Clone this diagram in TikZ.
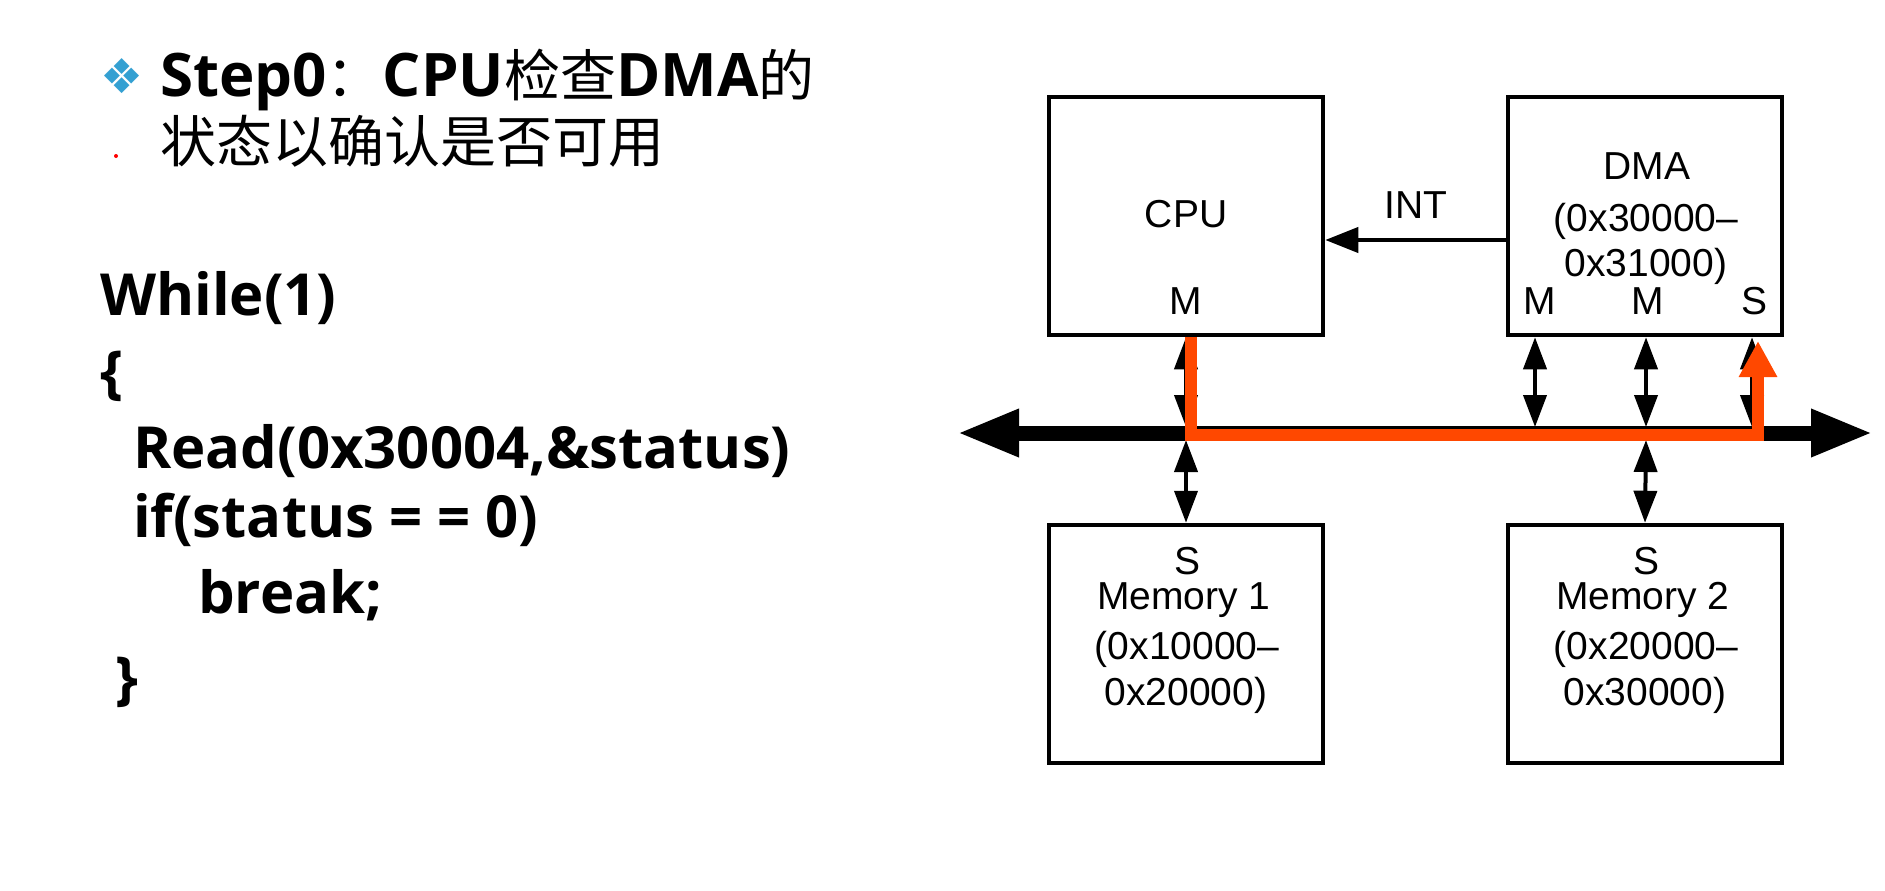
\documentclass[tikz,border=0pt]{standalone}
\usepackage{fontspec}
\setmainfont{Liberation Sans}
\newfontfamily\codefont{Open Sans}
\newfontfamily\cjk{Noto Sans CJK SC}
\newfontfamily\symfont{DejaVu Sans}
\usetikzlibrary{arrows.meta}
\definecolor{hlorange}{RGB}{255,72,0}
\definecolor{bulletblue}{RGB}{52,160,210}
\newcommand\tlat[1]{{\codefont\bfseries\fontsize{60}{66}\selectfont #1}}
\newcommand\tcjk[1]{{\cjk\fontsize{56}{62}\selectfont #1}}
\tikzset{
  box/.style={draw, line width=4.5pt, minimum width=274pt, minimum height=238pt, inner sep=0pt},
  lbl/.style={font=\fontsize{39}{46}\selectfont, inner sep=0pt, anchor=base},
  link/.style={line width=4pt, arrows={Triangle[length=32pt,width=23pt]-Triangle[length=32pt,width=23pt]}},
  busline/.style={line width=15pt, arrows={Triangle[length=62pt,width=44pt]-Triangle[length=62pt,width=44pt]}},
  intline/.style={line width=4pt, arrows={-Triangle[length=33pt,width=25pt]}},
  hl/.style={draw=hlorange, line width=11.5pt, line join=miter, arrows={-Triangle[length=36pt,width=36pt]}},
  title/.style={inner sep=0pt, anchor=base west},
  code/.style={inner sep=0pt, anchor=base west, font=\codefont\bfseries\fontsize{58}{66}\selectfont},
}
\begin{document}
\begin{tikzpicture}[x=1pt,y=-1pt]
\fill[white] (0,0) rectangle (1885,891);
\useasboundingbox (0,0) rectangle (1885,891);

% left text
\node[text=bulletblue, font=\symfont\fontsize{48}{50}\selectfont, inner sep=0pt] (bullet) at (122,76) {❖};
\node[title] (t1) at (160,96) {\tlat{Step0}\tcjk{：}\tlat{CPU}\tcjk{检查}\tlat{DMA}\tcjk{的}};
\node[title] (t2) at (160,162) {\tcjk{状态以确认是否可用}};
\fill[red] (116,156) circle (2pt);
\node[code] (c1) at (100,315) {While(1)};
\node[code] (c2) at (100,392) {\{};
\node[code] (c3) at (133,468) {Read(0x30004,\&status)};
\node[code] (c4) at (133,537) {if(status = = 0)};
\node[code] (c5) at (198,613) {break;};
\node[code] (c6) at (115,698) {\}};

% boxes
\node[box] (cpu) at (1186,216) {};
\node[box] (dma) at (1645,216) {};
\node[box] (mem1) at (1186,644) {};
\node[box] (mem2) at (1645,644) {};

% labels
\node[lbl] (cpuT) at (1186,227) {CPU};
\node[lbl] (cpuM) at (1186,314) {M};
\node[lbl] (dmaT) at (1647,179) {DMA};
\node[lbl] (dmaA) at (1646,231) {(0x30000–};
\node[lbl] (dmaB) at (1646,276) {0x31000)};
\node[lbl] (dmaM1) at (1540,314) {M};
\node[lbl] (dmaM2) at (1648,314) {M};
\node[lbl] (dmaS) at (1754,314) {S};
\node[lbl] (intT) at (1416,218) {INT};
\node[lbl] (m1S) at (1187,574) {S};
\node[lbl] (m1T) at (1184,609) {Memory 1};
\node[lbl] (m1A) at (1187,659) {(0x10000–};
\node[lbl] (m1B) at (1186,705) {0x20000)};
\node[lbl] (m2S) at (1646,574) {S};
\node[lbl] (m2T) at (1643,609) {Memory 2};
\node[lbl] (m2A) at (1646,659) {(0x20000–};
\node[lbl] (m2B) at (1645,705) {0x30000)};

% bus
\coordinate (busL) at (957,433);
\coordinate (busR) at (1873,433);
\draw[busline] (busL) -- (busR);

% bus taps
\coordinate (tCPU) at (1186,427);
\coordinate (tD1) at (1535,427);
\coordinate (tD2) at (1646,427);
\coordinate (tD3) at (1752,427);
\coordinate (tM1) at (1186,440);
\coordinate (tM2) at (1646,440);
\draw[link] (cpu.south) -- (tCPU);
\draw[link] (tD1 |- dma.south) -- (tD1);
\draw[link] (tD2 |- dma.south) -- (tD2);
\draw[link] (tD3 |- dma.south) -- (tD3);
\draw[link] (tM1) -- (mem1.north);
\draw[link] (tM2) -- (mem2.north);

% interrupt
\coordinate (intY) at (0,240);
\draw[intline] (dma.west |- intY) -- (cpu.east |- intY);

% highlighted path
\coordinate (hlStart) at (1191,337);
\coordinate (hlCorner) at (1758,435);
\coordinate (hlTip) at (1758,341);
\draw[hl] (hlStart) |- (hlCorner) -- (hlTip);
\end{tikzpicture}
\end{document}
